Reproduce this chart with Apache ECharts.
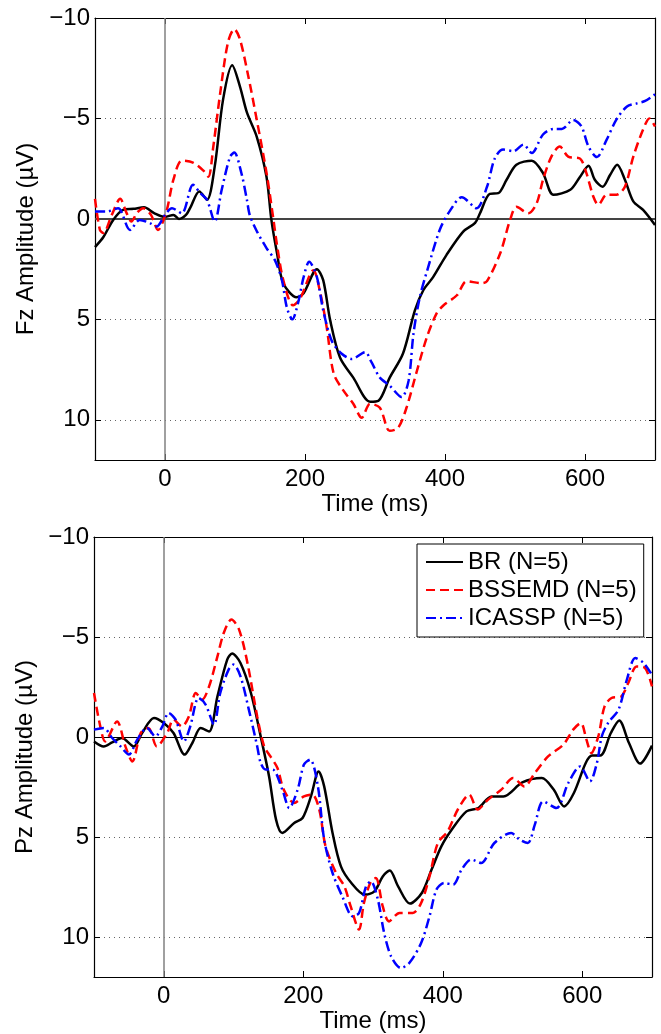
<!DOCTYPE html>
<html><head><meta charset="utf-8">
<script src="https://cdn.jsdelivr.net/npm/echarts@6/dist/echarts.min.js"></script>
<style>html,body{margin:0;padding:0;background:#fff}#c{width:661px;height:1034px}</style>
</head><body><div id="c"></div>
<script>
// ---------- data (time in ms, amplitude in µV; y axis is inverted) ----------
const xTicks = [0, 200, 400, 600];
const seriesNames = ['BR (N=5)', 'BSSEMD (N=5)', 'ICASSP (N=5)'];
const yNames = ['Fz Amplitude (\u00b5V)', 'Pz Amplitude (\u00b5V)'];

const fzBR_t = [-100,-88,-74,-60,-45,-30,-15,0,12,20,30,36,49,60,71,83,96,107,117,131,145,152,160,169,188,198,217,226,236,250,269,293,305,321,340,357,369,383,402,426,443,450,464,476,488,502,524,540,555,579,593,605,614,625,636,646,657,669,683,700];
const fzBR_v = [1.4,0.9,0.05,-0.45,-0.5,-0.58,-0.28,-0.1,-0.2,0.0,-0.2,-0.55,-1.37,-0.95,-2.6,-5.95,-7.65,-6.6,-5.3,-4.1,-2.1,0.05,1.7,3.2,3.9,3.7,2.5,3.05,5.05,6.9,7.9,9.1,9.05,7.9,6.7,4.55,3.55,2.9,1.8,0.63,0.2,-0.28,-1.25,-1.28,-1.95,-2.7,-2.9,-2.28,-1.2,-1.45,-2.1,-2.65,-1.95,-1.6,-2.2,-2.7,-1.95,-0.87,-0.45,0.3];

const fzBS_t = [-100,-93,-88,-76,-64,-55,-48,-40,-31,-20,-10,2,12,24,40,55,62,69,79,90,99,107,119,131,145,155,160,169,183,193,212,221,231,241,255,269,281,293,307,321,333,345,360,374,388,398,417,431,452,460,479,493,502,519,531,540,552,564,576,593,602,612,619,631,645,657,669,683,692,700];
const fzBS_v = [-1.0,0.55,0.7,-0.2,-1.0,-0.3,0.13,-0.3,-0.53,-0.2,0.55,-0.37,-1.95,-2.9,-2.8,-2.4,-2.1,-3.6,-6.3,-8.8,-9.45,-8.95,-7.1,-4.95,-2.3,0.05,1.3,3.05,4.3,3.97,2.55,3.55,5.4,7.7,8.55,9.2,9.9,9.2,9.4,10.55,10.4,9.4,7.55,5.9,4.7,4.3,3.8,3.1,3.2,3.1,1.7,0.05,-0.6,-0.28,-0.78,-1.95,-3.1,-3.6,-3.1,-3.0,-2.28,-1.1,-0.7,-1.2,-1.2,-1.6,-3.1,-4.45,-5.0,-4.6];

const fzIC_t = [-100,-83,-67,-50,-36,-21,-12,0,10,24,40,50,60,71,81,93,99,109,117,121,131,145,157,167,174,182,190,198,206,217,226,238,252,267,286,295,307,321,338,348,355,364,376,393,407,424,445,460,471,483,498,512,524,540,555,567,583,595,605,617,631,645,660,674,686,700];
const fzIC_v = [-0.37,-0.37,-0.53,0.55,0.05,0.22,0.38,-0.2,-0.53,-0.28,-1.7,-1.3,-0.95,0.13,-1.45,-3.1,-3.3,-2.3,-0.95,-0.2,0.6,1.45,2.05,3.05,4.4,5.0,4.2,2.9,2.13,2.9,4.55,6.05,6.7,6.97,6.63,7.13,7.9,8.3,8.87,8.05,5.7,3.9,2.4,0.5,-0.4,-1.08,-0.53,-1.6,-3.0,-3.45,-3.37,-3.7,-3.28,-4.2,-4.48,-4.48,-4.92,-4.6,-3.6,-3.08,-3.95,-4.95,-5.6,-5.75,-5.87,-6.2];

const pzBR_t = [-100,-86,-74,-60,-43,-31,-14,0,14,30,41,53,65,77,91,98,110,125,139,151,161,170,187,199,211,222,230,242,254,269,288,302,314,324,336,353,370,384,398,413,434,451,470,487,514,542,559,574,588,605,614,626,641,653,667,683,700];
const pzBR_v = [0.22,0.47,0.27,0.05,0.47,-0.2,-0.95,-0.7,-0.2,0.88,0.3,-0.45,-0.28,-2.03,-3.87,-4.17,-3.7,-2.2,-0.03,1.97,4.13,4.8,4.3,4.05,2.97,1.72,2.47,4.8,6.47,7.3,7.88,7.72,6.97,6.67,7.47,8.33,7.8,6.63,5.47,4.63,3.72,3.55,2.97,2.97,2.27,2.05,2.63,3.47,2.8,1.3,0.93,0.93,-0.2,-0.83,0.3,1.33,0.43];

const pzBS_t = [-100,-91,-84,-67,-55,-45,-33,-22,-10,5,14,26,36,46,55,65,77,86,97,108,120,134,144,153,163,172,187,201,213,223,232,247,259,268,280,287,297,304,314,323,338,357,369,381,393,407,422,438,450,465,484,501,517,532,551,573,587,598,606,613,623,632,642,656,666,678,690,700];
const pzBS_v = [-2.2,-0.53,0.22,-0.78,0.47,1.22,-0.2,-0.45,0.47,-0.2,-0.87,-0.53,-1.03,-2.2,-1.87,-2.53,-4.03,-5.2,-5.87,-5.37,-3.7,-1.03,0.47,0.97,1.55,2.63,3.3,2.97,2.88,3.63,5.47,6.8,7.47,8.47,9.63,8.3,7.22,7.05,8.47,9.22,8.8,8.8,8.3,6.97,5.3,4.72,3.6,2.88,3.63,3.13,2.63,2.05,2.47,1.8,0.97,0.38,-0.37,-0.7,0.13,0.8,-0.03,-1.53,-1.95,-2.03,-2.7,-3.53,-3.45,-2.53];

const pzIC_t = [-100,-86,-74,-62,-50,-38,-24,-12,-2,7,17,29,38,50,60,72,81,93,100,110,122,134,139,146,156,170,180,192,201,210,221,230,242,256,271,280,290,297,307,316,326,340,352,369,381,391,402,415,427,441,455,474,498,510,522,532,544,563,580,597,611,621,628,637,652,664,676,688,700];
const pzIC_v = [-0.37,-0.45,0.05,0.47,0.88,0.13,-0.45,-0.03,-0.53,-1.2,-0.87,0.22,-0.53,-1.95,-1.62,-0.62,-2.2,-3.37,-3.62,-3.03,-1.37,0.47,1.3,1.63,1.63,2.63,3.55,2.63,1.38,1.13,2.47,5.13,6.8,7.97,8.97,8.8,7.47,7.22,8.13,9.8,10.97,11.55,11.3,10.3,8.97,7.63,7.3,7.38,6.63,6.13,6.3,5.3,4.8,5.13,5.3,4.38,3.22,3.55,2.3,1.47,2.22,1.3,-0.03,-0.7,-1.37,-2.87,-3.95,-3.7,-3.1];

// ---------- chart ----------
const FONT = '"Liberation Sans", Arial, Helvetica, sans-serif';
const FS = 24;
const pairs = (t, v) => t.map((x, i) => [x, v[i]]);
const fmt = v => (v < 0 ? '\u2212' + Math.abs(v) : String(v));
const panels = [
  [pairs(fzBR_t, fzBR_v), pairs(fzBS_t, fzBS_v), pairs(fzIC_t, fzIC_v)],
  [pairs(pzBR_t, pzBR_v), pairs(pzBS_t, pzBS_v), pairs(pzIC_t, pzIC_v)]
];
const styles = [
  { color: '#000000', width: 2.5, type: 'solid' },
  { color: '#ff0000', width: 2.5, type: [9, 5] },
  { color: '#0000ff', width: 2.5, type: [10, 4, 2, 4] }
];
const grids = [
  { left: 95, top: 18, width: 560, height: 442 },
  { left: 94, top: 537, width: 558, height: 440 }
];
const nameGapsX = [26, 29];

const xAxis = [], yAxis = [], series = [];
grids.forEach((g, gi) => {
  const line = { show: true, onZero: false, lineStyle: { color: '#000', width: 1.2 } };
  const tick = { show: true, inside: true, length: 6, customValues: xTicks, lineStyle: { color: '#000', width: 1 } };
  xAxis.push({
    gridIndex: gi, type: 'value', min: -100, max: 700, position: 'bottom',
    axisLine: line, axisTick: tick,
    axisLabel: { customValues: xTicks, fontSize: FS, color: '#000', fontFamily: FONT, margin: 7 },
    splitLine: { show: false },
    name: 'Time (ms)', nameLocation: 'middle', nameGap: nameGapsX[gi],
    nameTextStyle: { fontSize: FS, color: '#000', fontFamily: FONT }
  });
  xAxis.push({
    gridIndex: gi, type: 'value', min: -100, max: 700, position: 'top',
    axisLine: line, axisTick: tick, axisLabel: { show: false }, splitLine: { show: false }
  });
  const ytick = { show: true, inside: true, length: 6, lineStyle: { color: '#000', width: 1 } };
  yAxis.push({
    gridIndex: gi, type: 'value', inverse: true, min: -10, max: 12, interval: 5, position: 'left',
    axisLine: line, axisTick: ytick,
    axisLabel: { formatter: fmt, showMaxLabel: false, fontSize: FS, color: '#000', fontFamily: FONT, margin: 5 },
    splitLine: { show: true, lineStyle: { color: '#666', width: 1, type: [1, 4] } },
    name: yNames[gi], nameLocation: 'middle', nameGap: 56,
    nameTextStyle: { fontSize: FS, color: '#000', fontFamily: FONT }
  });
  yAxis.push({
    gridIndex: gi, type: 'value', inverse: true, min: -10, max: 12, interval: 5, position: 'right',
    axisLine: line, axisTick: ytick, axisLabel: { show: false }, splitLine: { show: false }
  });
  panels[gi].forEach((data, si) => {
    const s = {
      type: 'line', name: seriesNames[si], xAxisIndex: gi * 2, yAxisIndex: gi * 2,
      data: data, symbol: 'none', showSymbol: false, smooth: 0.3,
      lineStyle: styles[si], itemStyle: { color: styles[si].color }, z: 3 + si
    };
    if (si === 0) {
      s.markLine = {
        silent: true, symbol: 'none', label: { show: false }, animation: false, z: 1,
        data: [
          { xAxis: 0, lineStyle: { color: '#808080', width: 1.5, type: 'solid' } },
          { yAxis: 0, lineStyle: { color: gi === 0 ? '#444' : '#000', width: gi === 0 ? 2 : 1, type: 'solid' } }
        ]
      };
    }
    series.push(s);
  });
});

const chart = echarts.init(document.getElementById('c'), null, { renderer: 'canvas' });
chart.setOption({
  animation: false,
  backgroundColor: '#fff',
  grid: grids,
  xAxis: xAxis,
  yAxis: yAxis,
  legend: {
    data: seriesNames, orient: 'vertical', left: 417, top: 544,
    padding: [6, 7, 7, 8], itemGap: 4, itemWidth: 37, itemHeight: 14,
    itemStyle: { opacity: 0 },
    borderColor: '#000', borderWidth: 1, backgroundColor: '#fff', borderRadius: 0,
    textStyle: { fontSize: 24, color: '#000', fontFamily: FONT, lineHeight: 24 }
  },
  series: series
});
</script></body></html>
